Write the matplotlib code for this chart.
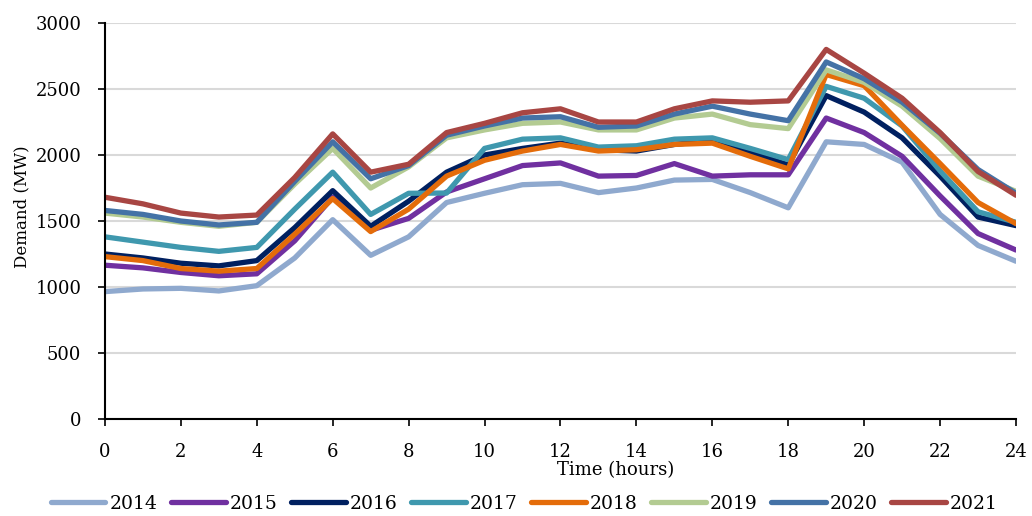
import matplotlib.pyplot as plt
import numpy as np

hours = np.arange(0, 25)

d2014 = [965, 985, 990, 970, 1010, 1220, 1510, 1240, 1380, 1640, 1710, 1775, 1785,
         1715, 1750, 1810, 1815, 1715, 1600, 2100, 2080, 1945, 1550, 1315, 1195]
d2015 = [1165, 1145, 1110, 1085, 1100, 1350, 1680, 1430, 1520, 1720, 1820, 1920, 1940,
         1840, 1845, 1935, 1840, 1850, 1850, 2280, 2170, 1990, 1690, 1405, 1280]
d2016 = [1250, 1220, 1180, 1160, 1200, 1450, 1730, 1460, 1650, 1870, 2000, 2050, 2090,
         2040, 2030, 2080, 2110, 2020, 1925, 2450, 2325, 2130, 1840, 1530, 1465]
d2017 = [1380, 1340, 1300, 1270, 1300, 1590, 1870, 1550, 1710, 1712, 2050, 2120, 2130,
         2060, 2070, 2120, 2130, 2050, 1965, 2520, 2430, 2220, 1880, 1570, 1490]
d2018 = [1230, 1200, 1140, 1120, 1140, 1400, 1670, 1420, 1590, 1840, 1960, 2030, 2080,
         2030, 2040, 2080, 2090, 1990, 1895, 2610, 2525, 2225, 1935, 1640, 1480]
d2019 = [1560, 1530, 1490, 1460, 1490, 1780, 2050, 1750, 1910, 2130, 2190, 2240, 2250,
         2190, 2190, 2280, 2310, 2230, 2200, 2645, 2550, 2370, 2125, 1840, 1725]
d2020 = [1580, 1550, 1500, 1470, 1490, 1800, 2100, 1820, 1920, 2150, 2220, 2280, 2290,
         2210, 2220, 2310, 2370, 2310, 2260, 2705, 2578, 2400, 2165, 1890, 1710]
d2021 = [1680, 1630, 1560, 1530, 1545, 1830, 2160, 1870, 1930, 2170, 2240, 2320, 2350,
         2250, 2250, 2350, 2410, 2400, 2410, 2800, 2620, 2430, 2170, 1875, 1695]

years = ["2014", "2015", "2016", "2017", "2018", "2019", "2020", "2021"]
series = [d2014, d2015, d2016, d2017, d2018, d2019, d2020, d2021]
colors = ["#8FA9CE", "#7030A0", "#002060", "#3F98AE", "#E46C0A",
          "#B3CB92", "#4472A6", "#A84643"]

plt.rcParams['font.family'] = ['DejaVu Serif']

fig = plt.figure(figsize=(10.32, 5.16), dpi=100)
ax = fig.add_axes([0.1017, 0.188, 0.8828, 0.7674])

for vals, col, lab in zip(series, colors, years):
    ax.plot(hours, vals, color=col, lw=3.8, label=lab, solid_capstyle='round')

ax.set_xlim(0, 24)
ax.set_ylim(0, 3000)
ax.set_xticks(np.arange(0, 25, 2))
ax.set_yticks(np.arange(0, 3001, 500))
ax.tick_params(labelsize=13, length=5, width=1.2, color='black', pad=12)
ax.grid(axis='y', color='#d9d9d9', lw=1.5)
ax.set_axisbelow(True)
for s in ['top', 'right']:
    ax.spines[s].set_visible(False)
for s in ['left', 'bottom']:
    ax.spines[s].set_linewidth(1.5)

ax.set_xlabel("Time (hours)", fontsize=13)
ax.xaxis.label.set_va('center')
ax.xaxis.set_label_coords(0.561, -0.129)
ax.set_ylabel("Demand (MW)", fontsize=12)
ax.yaxis.label.set_va('center')
ax.yaxis.set_label_coords(-0.091, 0.535)

fig.legend(loc='lower center', bbox_to_anchor=(0.508, -0.026), ncol=8, frameon=False,
           fontsize=13.5, handlelength=2.9, handletextpad=0.2, columnspacing=0.75)

fig.savefig("out.png", dpi=100)
